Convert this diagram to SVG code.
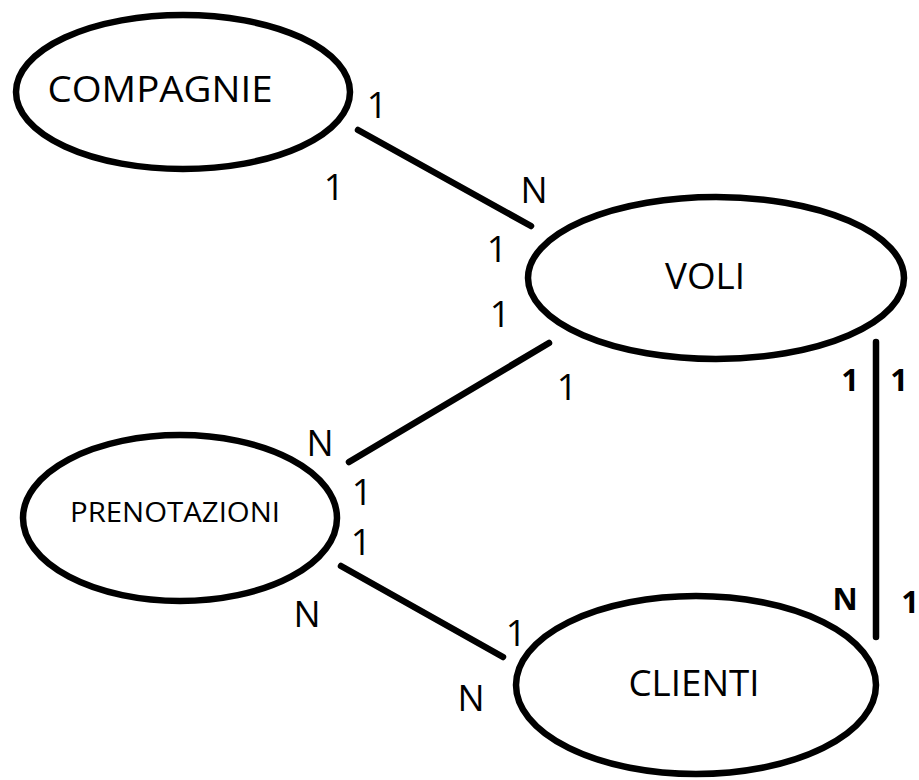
<svg xmlns="http://www.w3.org/2000/svg" width="919" height="780" viewBox="0 0 919 780">
<style>
.node ellipse{fill:none;stroke:#000;stroke-width:6.5}
.lbl{font-family:"Open Sans","Liberation Sans",sans-serif;fill:#000}
.card{font-family:"Open Sans","Liberation Sans",sans-serif;font-size:36px;fill:#000}
.cardb{font-family:"Open Sans","Liberation Sans",sans-serif;font-size:31px;font-weight:bold;fill:#000}
#connectors line{stroke:#000;stroke-width:6.5;stroke-linecap:round}
</style>
<rect width="919" height="780" fill="#fff"/>
<g id="connectors">
<line x1="358" y1="130" x2="531" y2="226"/>
<line x1="549" y1="343" x2="349" y2="462"/>
<line x1="341" y1="566" x2="503" y2="657"/>
<line x1="876" y1="342" x2="876" y2="637"/>
</g>
<g id="compagnie" class="node">
<ellipse cx="183" cy="92" rx="167" ry="77"/>
<text class="lbl" x="160" y="102" font-size="36" text-anchor="middle" textLength="225" lengthAdjust="spacingAndGlyphs">COMPAGNIE</text>
</g>
<g id="voli" class="node">
<ellipse cx="716" cy="278" rx="188" ry="81"/>
<text class="lbl" x="705" y="289" font-size="36" text-anchor="middle" textLength="80" lengthAdjust="spacingAndGlyphs">VOLI</text>
</g>
<g id="prenotazioni" class="node">
<ellipse cx="180" cy="518" rx="157" ry="83"/>
<text class="lbl" x="175" y="522" font-size="28" text-anchor="middle" textLength="210" lengthAdjust="spacingAndGlyphs">PRENOTAZIONI</text>
</g>
<g id="clienti" class="node">
<ellipse cx="696" cy="685" rx="180" ry="89"/>
<text class="lbl" x="694" y="696" font-size="36" text-anchor="middle" textLength="131" lengthAdjust="spacingAndGlyphs">CLIENTI</text>
</g>
<g id="labels">
<text class="card" x="377" y="118" text-anchor="middle">1</text>
<text class="card" x="334" y="200" text-anchor="middle">1</text>
<text class="card" x="534" y="203" text-anchor="middle">N</text>
<text class="card" x="497" y="262" text-anchor="middle">1</text>
<text class="card" x="500" y="327" text-anchor="middle">1</text>
<text class="card" x="567" y="400" text-anchor="middle">1</text>
<text class="card" x="320" y="456" text-anchor="middle">N</text>
<text class="card" x="362" y="505" text-anchor="middle">1</text>
<text class="card" x="361" y="555" text-anchor="middle">1</text>
<text class="card" x="307" y="627" text-anchor="middle">N</text>
<text class="card" x="516" y="646" text-anchor="middle">1</text>
<text class="card" x="471" y="711" text-anchor="middle">N</text>
<text class="cardb" x="850" y="391" text-anchor="middle">1</text>
<text class="cardb" x="899" y="391" text-anchor="middle">1</text>
<text class="cardb" x="845" y="610" text-anchor="middle">N</text>
<text class="cardb" x="910" y="613" text-anchor="middle">1</text>
</g>
</svg>
